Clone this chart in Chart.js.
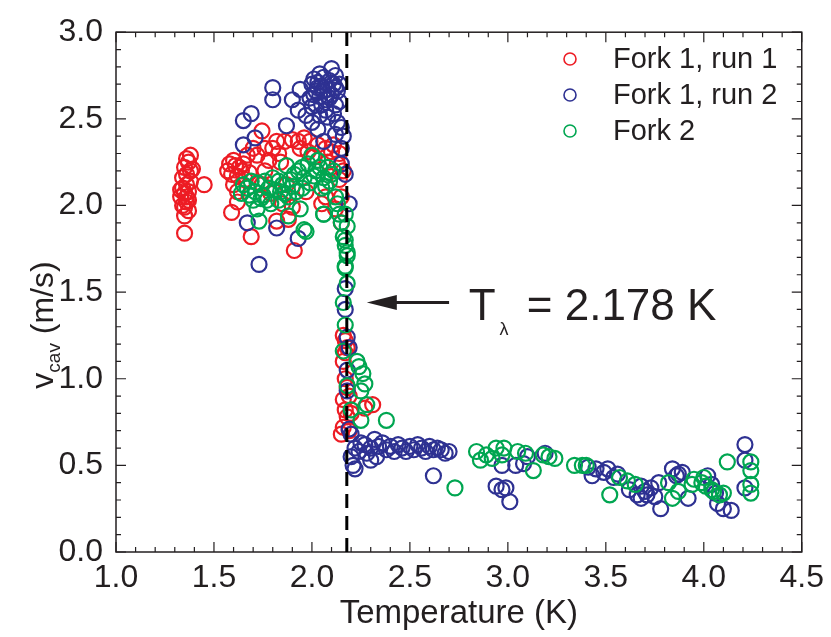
<!DOCTYPE html>
<html>
<head>
<meta charset="utf-8">
<script src="https://cdn.jsdelivr.net/npm/chart.js@4.4.1/dist/chart.umd.min.js"></script>
<style>
  body { margin: 0; background: #fff; }
  #wrap { width: 831px; height: 637px; }
</style>
</head>
<body>
<div id="wrap"><canvas id="cavChart" width="831" height="637"></canvas></div>
<script>
// [temperature (K), cavitation velocity (m/s)]
const fork1Run1 = [
  [1.35,1.84],[1.35,1.94],[1.37,1.97],[1.34,2.00],[1.36,2.02],[1.33,2.05],[1.35,2.07],[1.37,2.08],
  [1.34,2.10],[1.36,2.12],[1.38,2.14],[1.34,2.16],[1.36,2.18],[1.38,2.20],[1.35,2.22],[1.37,2.25],
  [1.39,2.21],[1.38,2.29],[1.36,2.27],[1.45,2.12],[1.37,2.03],[1.35,1.99],[1.33,2.09],[1.36,2.05],
  [1.60,2.26],[1.59,2.18],[1.60,2.12],[1.63,2.22],[1.59,1.96],[1.67,2.29],[1.65,2.24],[1.72,2.29],
  [1.745,2.43],[1.70,2.33],[1.69,1.82],[1.76,2.33],[1.80,2.33],[1.82,2.37],[1.83,2.30],[1.76,2.20],
  [1.86,2.37],[1.90,2.38],[1.93,2.37],[1.96,2.39],[1.99,2.37],[2.03,2.35],[2.07,2.33],[2.10,2.31],
  [1.87,2.12],[1.90,1.99],[1.82,1.91],[1.91,1.74],[1.88,1.92],[2.05,2.01],[2.07,2.05],[2.15,1.90],
  [2.13,2.24],[2.16,2.20],[1.745,2.12],[1.79,2.07],[1.97,2.08],[1.85,2.01],[1.62,2.17],[1.64,2.20],
  [1.61,2.23],[1.66,2.15],[1.68,2.19],[1.57,2.20],[1.58,2.24],[1.62,2.08],[1.62,2.02],[1.78,2.26],
  [1.84,2.25],[2.14,2.15],[2.15,2.05],[2.12,1.98],[2.11,2.35],[2.14,2.30],[1.98,2.31],[2.01,2.28],
  [1.94,2.33],[2.08,2.25],
  [2.16,1.25],[2.17,1.22],[2.18,1.18],[2.16,1.10],[2.17,1.00],[2.18,0.95],[2.16,0.88],[2.17,0.82],
  [2.18,0.78],[2.16,0.72],[2.19,0.70],[2.20,0.80],[2.31,0.85],[2.27,0.83],[2.15,0.68],[2.17,1.15],
  [2.19,0.90]
];

const fork1Run2 = [
  [1.80,2.68],[1.80,2.61],[1.90,2.61],[1.94,2.67],[1.69,2.53],[1.65,2.49],[1.87,2.46],[1.65,2.35],
  [1.71,2.39],[1.93,2.55],[1.97,2.52],[2.00,2.48],[2.03,2.44],[2.06,2.37],[2.12,2.41],[2.15,2.33],
  [2.15,2.24],[2.17,2.18],[1.67,1.90],[1.82,1.87],[1.93,1.81],[1.73,1.66],[2.19,2.01],
  [2.00,2.70],[2.01,2.73],[2.02,2.66],[2.03,2.71],[2.04,2.63],[2.05,2.69],[2.06,2.74],[2.07,2.61],
  [2.08,2.67],[2.09,2.72],[2.10,2.64],[2.11,2.70],[2.12,2.58],[2.13,2.66],[2.10,2.79],[2.12,2.75],
  [2.05,2.58],[2.07,2.55],[1.99,2.62],[2.02,2.58],[2.08,2.51],[2.11,2.53],[2.13,2.48],[2.14,2.60],
  [2.04,2.76],[2.14,2.70],[2.15,2.45],[2.16,2.40],[2.01,2.64],[2.03,2.68],[2.06,2.66],[2.09,2.62],
  [2.12,2.68],[2.00,2.57],[2.04,2.52],
  [2.17,1.52],[2.18,1.24],[2.19,1.18],[2.18,0.93],[2.19,0.71],[2.17,1.40],[2.18,1.05],[2.20,0.68],
  [2.20,0.55],[2.21,0.50],[2.22,0.60],[2.24,0.58],[2.25,0.63],[2.27,0.62],[2.28,0.57],[2.30,0.60],
  [2.32,0.65],[2.34,0.61],[2.36,0.63],[2.38,0.59],[2.40,0.61],[2.42,0.58],[2.44,0.62],[2.46,0.60],
  [2.48,0.58],[2.50,0.61],[2.52,0.59],[2.54,0.62],[2.56,0.60],[2.58,0.58],[2.60,0.61],[2.62,0.59],
  [2.64,0.60],[2.66,0.59],[2.68,0.57],[2.30,0.53],[2.62,0.44],[2.22,0.48],[2.33,0.55],[2.70,0.58],
  [2.94,0.38],[2.97,0.36],[2.99,0.37],[3.01,0.29],[2.97,0.50],[3.04,0.50],[3.08,0.51],[3.10,0.55],
  [3.19,0.57],[3.41,0.49],[3.43,0.44],[3.45,0.48],[3.49,0.46],[3.51,0.48],[3.54,0.43],[3.56,0.45],
  [3.62,0.36],[3.66,0.33],[3.68,0.31],[3.70,0.35],[3.73,0.37],[3.75,0.32],[3.77,0.40],[3.78,0.25],
  [3.84,0.48],[3.87,0.45],[3.86,0.44],[3.89,0.46],[3.92,0.31],[4.02,0.44],[4.04,0.39],[4.06,0.34],
  [4.07,0.28],[4.10,0.25],[4.14,0.24],[4.21,0.62],[4.21,0.53],[4.21,0.37],[3.68,0.38],[3.71,0.33]
];

const fork2 = [
  [1.65,2.12],[1.64,2.07],[1.69,2.14],[1.70,2.03],[1.72,1.98],[1.73,1.91],[1.76,2.14],[1.77,2.03],
  [1.81,2.09],[1.85,2.12],[1.86,2.07],[1.87,2.23],[1.88,1.94],[1.90,2.11],[1.93,2.20],[1.94,1.98],
  [1.96,2.16],[1.97,1.85],[1.98,2.24],[2.00,2.29],[2.02,2.20],[2.03,2.26],[2.06,2.16],[2.06,1.95],
  [2.08,2.22],[2.07,2.11],[2.10,2.18],[2.12,2.05],[2.13,2.01],[2.14,1.95],[2.15,1.90],[2.16,1.82],
  [2.17,1.77],[2.18,1.71],[2.17,1.64],[1.75,2.06],[1.83,2.03],[1.80,2.16],[1.91,2.18],
  [1.67,2.10],[1.71,2.08],[1.74,2.04],[1.78,2.10],[1.79,2.01],[1.84,2.08],[1.88,2.05],[1.89,2.15],
  [1.92,2.08],[1.95,2.10],[1.99,2.13],[2.01,2.17],[2.04,2.22],[2.05,2.10],[2.09,2.14],[2.11,2.20],
  [1.95,2.22],[1.83,2.14],[1.72,2.13],[1.68,2.06],
  [2.17,1.95],[2.18,1.88],[2.17,1.80],[2.18,1.73],[2.17,1.65],[2.18,1.55],[2.16,1.44],[2.17,1.31],
  [2.16,1.16],[2.18,0.96],[2.24,1.07],[2.26,1.03],[2.27,0.97],[2.25,0.93],[2.23,1.10],[2.28,0.85],
  [2.25,0.76],[2.38,0.76],[2.20,0.82],[1.96,1.86],[2.06,1.95],
  [2.73,0.37],[2.84,0.58],[2.86,0.53],[2.89,0.56],[2.92,0.54],[2.94,0.60],[2.98,0.60],[2.97,0.56],
  [3.05,0.58],[3.09,0.57],[3.13,0.47],[3.18,0.56],[3.21,0.55],[3.24,0.54],[3.34,0.50],[3.38,0.50],
  [3.40,0.50],[3.52,0.33],[3.57,0.43],[3.61,0.41],[3.65,0.39],[3.82,0.40],[3.84,0.31],[3.87,0.35],
  [3.94,0.39],[3.95,0.42],[3.99,0.40],[4.01,0.38],[4.04,0.36],[4.05,0.35],[4.08,0.33],[4.10,0.34],
  [4.12,0.52],[4.24,0.52],[4.24,0.47],[4.24,0.39],[4.24,0.34],[4.00,0.43]
];

const seriesLabels = ['Fork 1, run 1', 'Fork 1, run 2', 'Fork 2'];
const seriesColors = ['#ed1c24', '#2e3192', '#00a651'];
const lambdaT = 2.178;
const lambdaText = '= 2.178 K';
const arrowTip = { x: 2.28, y: 1.44 };
const arrowTail = { x: 2.70, y: 1.44 };
const lambdaLabelPos = { x: 2.80, y: 1.34 };

const ink = '#231f20';
const fontFamily = "'Liberation Sans', Arial, Helvetica, sans-serif";
Chart.defaults.font.family = fontFamily;
Chart.defaults.color = ink;

function toPoints(rows) {
  return rows.map(r => ({ x: r[0], y: r[1] }));
}

function scatterSet(rows, i) {
  return {
    label: seriesLabels[i],
    data: toPoints(rows),
    borderColor: seriesColors[i],
    backgroundColor: 'rgba(0,0,0,0)',
    pointRadius: 7.5,
    pointHoverRadius: 7.5,
    pointBorderWidth: 2.2,
    showLine: false,
    order: 2 - i
  };
}

// frame with inward major/minor ticks on all four sides
const framePlugin = {
  id: 'frame',
  beforeDatasetsDraw(chart) {
    const { ctx, chartArea: a, scales: { x, y } } = chart;
    ctx.save();
    ctx.strokeStyle = ink;
    ctx.lineWidth = 1.5;
    ctx.strokeRect(a.left, a.top, a.right - a.left, a.bottom - a.top);
    ctx.lineWidth = 1.2;
    ctx.beginPath();
    for (let i = 0; i <= 35; i++) {
      const px = x.getPixelForValue(x.min + i * 0.1);
      const len = i % 5 === 0 ? 10 : 5;
      ctx.moveTo(px, a.bottom); ctx.lineTo(px, a.bottom - len);
      ctx.moveTo(px, a.top); ctx.lineTo(px, a.top + len);
    }
    for (let i = 0; i <= 30; i++) {
      const py = y.getPixelForValue(y.min + i * 0.1);
      const len = i % 5 === 0 ? 10 : 5;
      ctx.moveTo(a.left, py); ctx.lineTo(a.left + len, py);
      ctx.moveTo(a.right, py); ctx.lineTo(a.right - len, py);
    }
    ctx.stroke();
    ctx.restore();
  },
  afterDraw(chart) {
    const { ctx, scales: { x, y } } = chart;
    ctx.save();

    // y axis title with subscript
    ctx.fillStyle = ink;
    ctx.translate(42, 325);
    ctx.rotate(-Math.PI / 2);
    const big = '32px ' + fontFamily, small = '19px ' + fontFamily;
    ctx.font = big; const wv = ctx.measureText('v').width;
    const wu = ctx.measureText(' (m/s)').width;
    ctx.font = small; const ws = ctx.measureText('cav').width;
    let cx = -(wv + ws + wu) / 2;
    ctx.textBaseline = 'alphabetic';
    ctx.font = big; ctx.fillText('v', cx, 11); cx += wv;
    ctx.font = small; ctx.fillText('cav', cx, 18); cx += ws;
    ctx.font = big; ctx.fillText(' (m/s)', cx, 11);
    ctx.restore();

    // legend
    ctx.save();
    ctx.font = '29px ' + fontFamily;
    ctx.textBaseline = 'middle';
    chart.data.datasets.slice(0, 3).forEach((ds, i) => {
      const ly = 59 + i * 36;
      ctx.beginPath();
      ctx.strokeStyle = ds.borderColor;
      ctx.lineWidth = 1.6;
      ctx.arc(570, ly, 6, 0, Math.PI * 2);
      ctx.stroke();
      ctx.fillStyle = ink;
      ctx.fillText(ds.label, 613, ly + 1);
    });
    ctx.restore();

    // arrow pointing at the lambda line
    ctx.save();
    const tx = x.getPixelForValue(arrowTip.x), ty = y.getPixelForValue(arrowTip.y);
    const sx = x.getPixelForValue(arrowTail.x);
    ctx.strokeStyle = ink; ctx.fillStyle = ink;
    ctx.lineWidth = 3;
    ctx.beginPath(); ctx.moveTo(sx, ty); ctx.lineTo(tx + 20, ty); ctx.stroke();
    ctx.beginPath();
    ctx.moveTo(tx, ty); ctx.lineTo(tx + 30, ty - 7.5); ctx.lineTo(tx + 30, ty + 7.5);
    ctx.closePath(); ctx.fill();

    // T_lambda label
    const lx = x.getPixelForValue(lambdaLabelPos.x), ly = y.getPixelForValue(lambdaLabelPos.y);
    ctx.textBaseline = 'alphabetic';
    ctx.font = '44px ' + fontFamily;
    ctx.fillText('T', lx, ly);
    let px = lx + ctx.measureText('T').width + 4;
    ctx.font = '18px ' + fontFamily;
    ctx.fillText('λ', px, ly + 15);
    px += ctx.measureText('λ').width + 6;
    ctx.font = '44px ' + fontFamily;
    ctx.fillText(' ' + lambdaText, px, ly);
    ctx.restore();
  }
};

const ctx = document.getElementById('cavChart').getContext('2d');
new Chart(ctx, {
  type: 'scatter',
  data: {
    datasets: [
      scatterSet(fork1Run1, 0),
      scatterSet(fork1Run2, 1),
      scatterSet(fork2, 2),
      {
        label: 'T_lambda',
        data: [{ x: lambdaT, y: 0 }, { x: lambdaT, y: 3 }],
        showLine: true,
        borderColor: '#000',
        borderWidth: 3,
        borderDash: [14, 8],
        pointRadius: 0,
        order: -1
      }
    ]
  },
  options: {
    responsive: false,
    animation: false,
    layout: { padding: { top: 22, right: 24, left: 0, bottom: 0 } },
    plugins: { legend: { display: false }, tooltip: { enabled: false } },
    scales: {
      x: {
        type: 'linear',
        min: 1, max: 4.5,
        grid: { display: false, drawTicks: false },
        border: { display: false },
        ticks: { stepSize: 0.5, padding: 7, color: ink, font: { size: 32 },
                 callback: v => v.toFixed(1), maxRotation: 0 },
        title: { display: true, text: 'Temperature (K)', color: ink,
                 font: { size: 33 }, padding: { top: 0, bottom: 3 } },
        afterFit: s => { s.height = 85; }
      },
      y: {
        type: 'linear',
        min: 0, max: 3,
        grid: { display: false, drawTicks: false },
        border: { display: false },
        ticks: { stepSize: 0.5, padding: 13, color: ink, font: { size: 32 },
                 callback: v => v.toFixed(1) },
        afterFit: s => { s.width = 116; }
      }
    }
  },
  plugins: [framePlugin]
});
</script>
</body>
</html>
